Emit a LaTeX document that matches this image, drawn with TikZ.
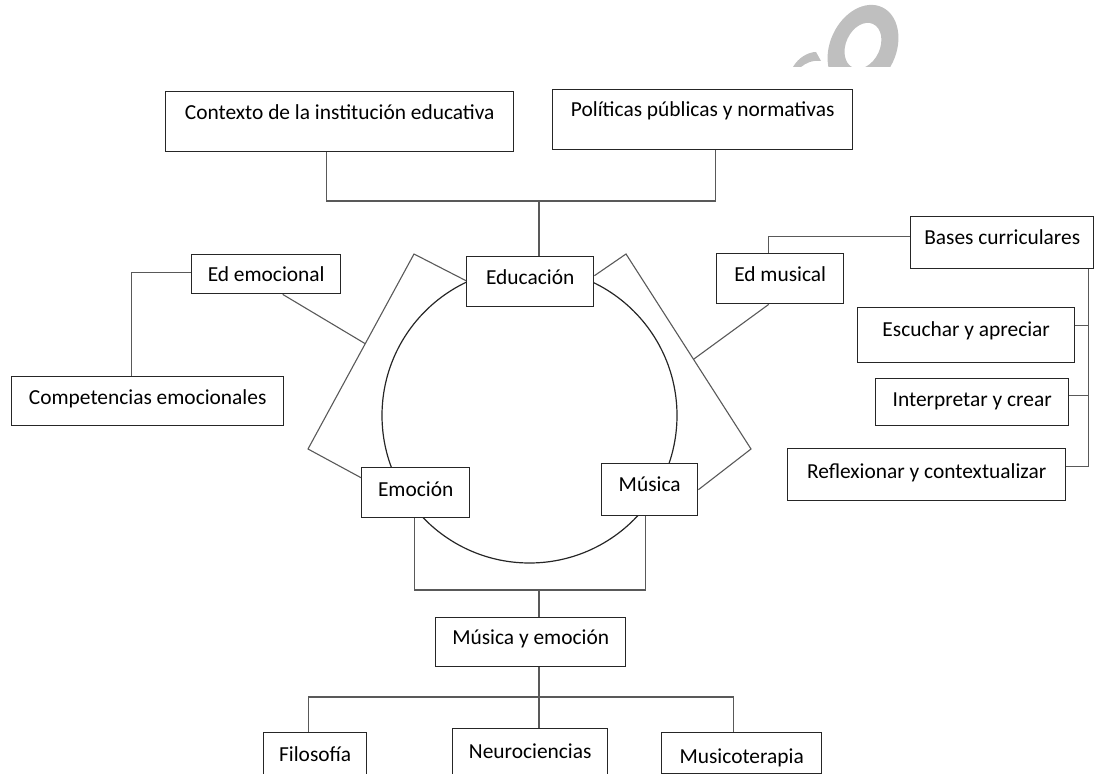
\documentclass[tikz,border=0pt]{standalone}
\usepackage{fontspec}
\setmainfont{Carlito}
\usetikzlibrary{positioning,calc}

\begin{document}
\begin{tikzpicture}
   [x=0.5pt,y=-0.5pt,
    caja/.style={draw=black!85,fill=white,line width=0.7pt,inner sep=0pt,anchor=north west,
         font=\fontsize{10.7}{13}\selectfont},
    linea/.style={draw=black!65,line width=0.55pt},
    marca/.style={fill=black!25}]

\clip (0,0) rectangle (1096,774);

% watermark, cut off at the top
\begin{scope}
\clip (700,0) rectangle (950,67);
\fill[marca,even odd rule,rotate around={-25:(863,48)}]
   (863,48) ellipse [x radius=33,y radius=45]
   (862,46) ellipse [x radius=17,y radius=24];
\fill[marca] (793,67) .. controls (798,58) and (808,52) .. (816,52) -- (821,61)
   .. controls (812,60) and (806,63) .. (801,67) -- cycle;
\end{scope}

\draw[black!85,line width=0.6pt] (529.5,415.5) circle [radius=147.5];

\node[caja,minimum width=174pt,text height=14pt,text depth=16pt] (ctx) at (165,91) {Contexto de la institución educativa};
\node[caja,minimum width=150pt,text height=13.5pt,text depth=16.5pt] (pol) at (552,89) {Políticas públicas y normativas};
\node[caja,minimum width=63.5pt,text height=14pt,text depth=11pt] (edu) at (466,256) {Educación};
\node[caja,minimum width=74.5pt,text height=13.5pt,text depth=6pt] (ede) at (191,254) {Ed emocional};
\node[caja,minimum width=136pt,text height=14pt,text depth=10.5pt] (comp) at (11,376) {Competencias emocionales};
\node[caja,minimum width=54pt,text height=14.5pt,text depth=10.5pt] (emo) at (361,467) {Emoción};
\node[caja,minimum width=48pt,text height=14pt,text depth=12pt] (mus) at (601,463) {Música};
\node[caja,minimum width=63.5pt,text height=14pt,text depth=11pt] (edm) at (716,253) {Ed musical};
\node[caja,minimum width=91.5pt,text height=14pt,text depth=12pt] (bas) at (910,216) {Bases curriculares};
\node[caja,minimum width=108.5pt,text height=14.5pt,text depth=13pt] (esc) at (857,307) {Escuchar y apreciar};
\node[caja,minimum width=96.5pt,text height=14pt,text depth=9.5pt] (int) at (875,378) {Interpretar y crear};
\node[caja,minimum width=139pt,text height=15pt,text depth=11pt] (ref) at (787,448) {Reflexionar y contextualizar};
\node[caja,minimum width=95pt,text height=13.5pt,text depth=11pt] (mye) at (435,617) {Música y emoción};
\node[caja,minimum width=51.5pt,text height=14.5pt,text depth=14.5pt] (fil) at (263,732) {Filosofía};
\node[caja,minimum width=77.5pt,text height=15pt,text depth=16pt] (neu) at (452,728) {Neurociencias};
\node[caja,minimum width=80pt,text height=15.5pt,text depth=5pt] (mct) at (661,732) {Musicoterapia};

% top
\coordinate (jtop) at (539,201);
\draw[linea] ([xshift=-6.5pt]ctx.south) |- (jtop) -| ([xshift=6.5pt]pol.south);
\draw[linea] (jtop) -- (jtop |- edu.north);

% brackets round the circle
\coordinate (li1) at (414,254);
\coordinate (li2) at (308,449);
\coordinate (ld1) at (626,254);
\coordinate (ld2) at (751,449);
\draw[linea] ([yshift=0.5pt]edu.west) -- (li1) -- (li2) -- ([yshift=7.5pt]emo.west);
\draw[linea] ([yshift=3pt]edu.east) -- (ld1) -- (ld2) -- (mus.east);
\coordinate (lm) at ($(li1)!0.46!(li2)$);
\coordinate (rm) at ($(ld1)!0.54!(ld2)$);

% left side
\draw[linea] ([xshift=8.25pt]ede.south) -- (lm);
\draw[linea] ([yshift=0.75pt]ede.west) -| ([xshift=-8pt]comp.north);

% right side
\draw[linea] ([xshift=-5.75pt]edm.south) -- (rm);
\draw[linea] ([yshift=3pt]bas.west) -| ([xshift=-5.75pt]edm.north);
\coordinate (sp) at ([xshift=-3pt]bas.south east);
\coordinate (tesc) at ([yshift=4.75pt]esc.east);
\coordinate (tint) at ([yshift=3.25pt]int.east);
\coordinate (tref) at ([yshift=4pt]ref.east);
\draw[linea] (sp) |- (tref);
\draw[linea] (tesc) -- (tesc -| sp);
\draw[linea] (tint) -- (tint -| sp);

% bottom
\coordinate (jbot) at (539,590);
\coordinate (jlow) at (539,697);
\draw[linea] ([xshift=-0.5pt]emo.south) |- (jbot) -| ([xshift=-2pt]mus.south);
\draw[linea] (jbot) -- (jbot |- mye.north);
\draw[linea] (jlow |- mye.south) -- (jlow);
\draw[linea] ([xshift=-3.25pt]fil.north) |- (jlow) -| ([xshift=-4pt]mct.north);
\draw[linea] (jlow) -- (jlow |- neu.north);
\end{tikzpicture}
\end{document}
